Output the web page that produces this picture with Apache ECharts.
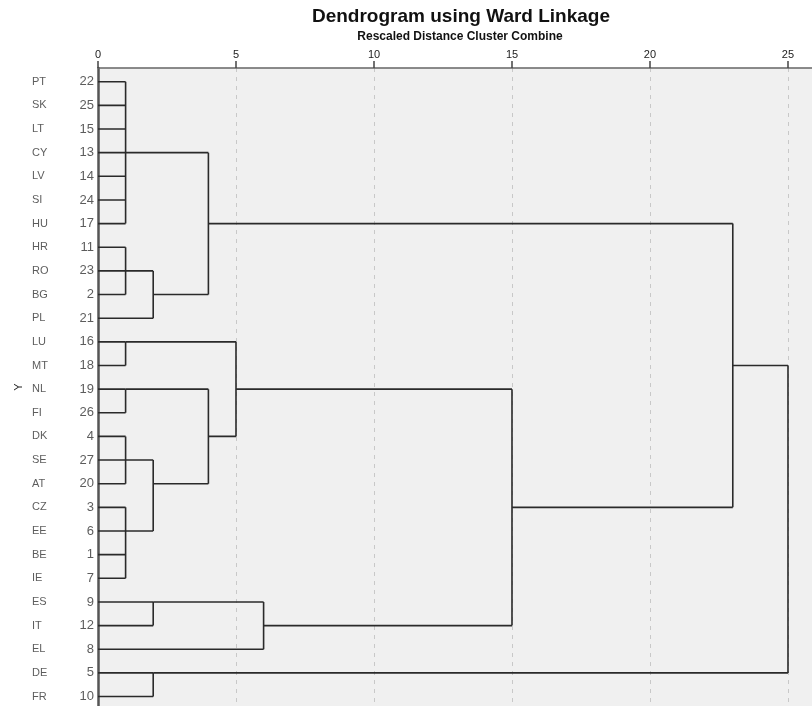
<!DOCTYPE html>
<html>
<head>
<meta charset="utf-8">
<script src="https://cdn.jsdelivr.net/npm/echarts@6/dist/echarts.min.js"></script>
<style>
html,body{margin:0;padding:0;background:#fff;}
#chart{width:812px;height:706px;}
</style>
</head>
<body>
<div id="chart"></div>
<script>
// Leaf order (top to bottom) and case numbers
const leafCodes = ['PT','SK','LT','CY','LV','SI','HU','HR','RO','BG','PL','LU','MT','NL','FI','DK','SE','AT','CZ','EE','BE','IE','ES','IT','EL','DE','FR'];
const leafNumbers = [22,25,15,13,14,24,17,11,23,2,21,16,18,19,26,4,27,20,3,6,1,7,9,12,8,5,10];
// Agglomeration steps: rescaled distance and joined members (leaf codes or earlier step ids)
const mergeHeights = [1, 1, 2, 4, 1, 1, 1, 1, 2, 4, 5, 2, 6, 15, 23, 2, 25];
const mergeMembers = [
  ['PT','SK','LT','CY','LV','SI','HU'],
  ['HR','RO','BG'],
  ['m1','PL'],
  ['m0','m2'],
  ['LU','MT'],
  ['NL','FI'],
  ['DK','SE','AT'],
  ['CZ','EE','BE','IE'],
  ['m6','m7'],
  ['m5','m8'],
  ['m4','m9'],
  ['ES','IT'],
  ['m11','EL'],
  ['m10','m12'],
  ['m3','m13'],
  ['DE','FR'],
  ['m14','m15']
];
const xTicks = [0, 5, 10, 15, 20, 25];
const titleText = 'Dendrogram using Ward Linkage';
const subtitleText = 'Rescaled Distance Cluster Combine';

// Build the dendrogram paths in data coordinates
const nodePos = {};
leafCodes.forEach((c, i) => { nodePos[c] = { x: 0, y: i }; });
const paths = [];
mergeMembers.forEach((members, k) => {
  const h = mergeHeights[k];
  const ys = [];
  members.forEach(m => {
    const p = nodePos[m];
    ys.push(p.y);
    paths.push({ coords: [[p.x, p.y], [h, p.y]] });
  });
  const lo = Math.min(...ys), hi = Math.max(...ys);
  paths.push({ coords: [[h, lo], [h, hi]] });
  nodePos['m' + k] = { x: h, y: Math.floor((lo + hi) / 2) };
});

const chart = echarts.init(document.getElementById('chart'), null, { renderer: 'canvas' });
const FONT = "'Liberation Sans', Arial, sans-serif";
chart.setOption({
  animation: false,
  backgroundColor: '#ffffff',
  graphic: [
    { type: 'text', x: 461, y: 17, style: { text: titleText, fontFamily: FONT, fontSize: 19, fontWeight: 'bold', fill: '#111', align: 'center', verticalAlign: 'middle' } },
    { type: 'text', x: 460, y: 37, style: { text: subtitleText, fontFamily: FONT, fontSize: 12, fontWeight: 'bold', fill: '#111', align: 'center', verticalAlign: 'middle' } }
  ],
  grid: { left: 98, top: 68, right: 0, bottom: 0, show: true, backgroundColor: '#f0f0f0', borderWidth: 0, containLabel: false },
  xAxis: {
    type: 'value', position: 'top', min: 0, max: 25.87, interval: 5,
    axisLine: { show: true, onZero: false, lineStyle: { color: '#666', width: 1.5 } },
    axisTick: { show: true, length: 7, lineStyle: { color: '#444', width: 1.5 } },
    axisLabel: {
      margin: 8, color: '#222', fontFamily: FONT, fontSize: 11, showMaxLabel: false,
      formatter: v => (xTicks.indexOf(v) >= 0 ? String(v) : '')
    },
    splitLine: { show: true, lineStyle: { color: '#c8c8c8', width: 1, type: [4, 5] } }
  },
  yAxis: {
    type: 'value', inverse: true, min: -0.58, max: 26.4,
    name: 'Y', nameLocation: 'middle', nameGap: 74, nameRotate: 90,
    nameTextStyle: { fontFamily: FONT, fontSize: 11, color: '#222' },
    axisLine: { show: true, onZero: false, lineStyle: { color: '#555', width: 2.5 } },
    axisTick: { show: false }, axisLabel: { show: false }, splitLine: { show: false }
  },
  series: [
    {
      type: 'lines', coordinateSystem: 'cartesian2d', polyline: true, silent: true, z: 5,
      lineStyle: { color: '#2a2a2a', width: 1.6, opacity: 1 },
      data: paths
    },
    {
      type: 'scatter', symbolSize: 0, silent: true, z: 6,
      data: leafCodes.map((c, i) => ({ value: [0, i], name: c })),
      label: { show: true, position: 'left', distance: 66, align: 'left', formatter: p => p.name, fontFamily: FONT, fontSize: 11, color: '#333' }
    },
    {
      type: 'scatter', symbolSize: 0, silent: true, z: 6,
      data: leafNumbers.map((n, i) => ({ value: [0, i], name: String(n) })),
      label: { show: true, position: 'left', distance: 4, formatter: p => p.name, fontFamily: FONT, fontSize: 13, color: '#333' }
    }
  ]
});
</script>
</body>
</html>
